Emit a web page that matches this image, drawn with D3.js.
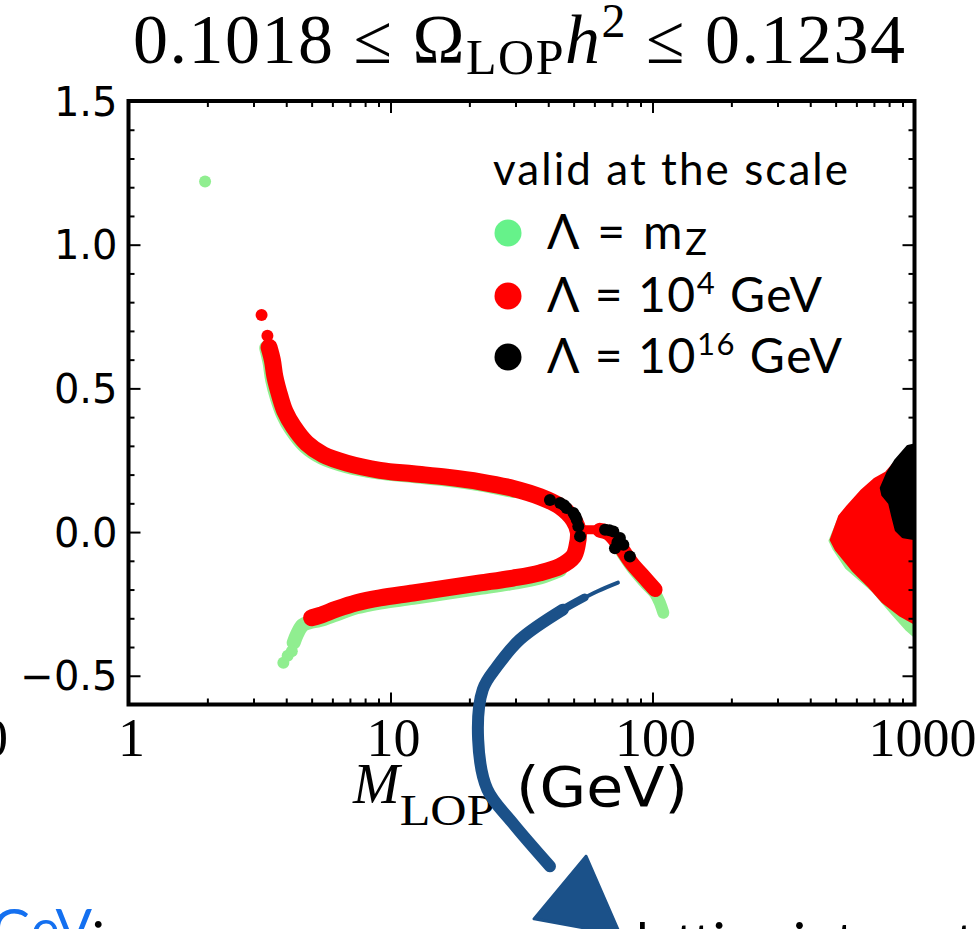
<!DOCTYPE html>
<html><head><meta charset="utf-8">
<script src="https://cdn.jsdelivr.net/npm/d3@7"></script>
<style>body{margin:0;background:#fff;overflow:hidden}svg{display:block}</style>
</head><body>
<svg id="c" width="979" height="929"></svg>
<script>
// ---------- data ----------
const xTicks = [1, 10, 100, 1000];
const xTickLabels = ["1", "10", "100", "1000"];
const xMinor = [2,3,4,5,6,7,8,9,20,30,40,50,60,70,80,90,200,300,400,500,600,700,800,900];
const yTicks = [-0.5, 0.0, 0.5, 1.0, 1.5];
const yTickLabels = ["\u22120.5", "0.0", "0.5", "1.0", "1.5"];
const yMinor = [-0.6,-0.4,-0.3,-0.2,-0.1,0.1,0.2,0.3,0.4,0.6,0.7,0.8,0.9,1.1,1.2,1.3,1.4];

const legendTitle = "valid at the scale";
const legendPre = ["\u039B = m", "\u039B = 10", "\u039B = 10"];
const legendScript = ["Z", "4", "16"];
const legendScriptType = ["sub", "sup", "sup"];
const legendPost = ["", " GeV", " GeV"];

// Lambda = mZ (green)
const greenDots = [[1.96, 1.22], [3.9, -0.455], [4.05, -0.43], [4.2, -0.415]];
const greenUpper = [[3.40,0.64],[3.50,0.59],[3.58,0.53],[3.74,0.465],[3.92,0.413],[4.22,0.36],[4.75,0.302],[5.5,0.263],[6.8,0.234],[9.1,0.212],[12.2,0.2],[16.4,0.188],[22,0.171],[29.4,0.148]];
const greenLower = [[44.4,-0.132],[37.2,-0.158],[29.4,-0.177],[22,-0.194],[16.4,-0.211],[12.2,-0.229],[9.12,-0.245],[7.42,-0.262],[6.23,-0.286],[5.38,-0.306],[4.9,-0.314],[4.62,-0.324],[4.4,-0.355],[4.27,-0.385]];
const greenRight = [[75,-0.06],[83.3,-0.122],[93.5,-0.176],[102.3,-0.214],[106.9,-0.248],[110,-0.281]];
const greenBlob = [[478,-0.03],[520,0.05],[1100,0.30],[1100,-0.37],[1000,-0.36],[934,-0.336],[830,-0.284],[697,-0.203],[551,-0.122],[495,-0.058]];

// Lambda = 1e4 GeV (red)
const redDots = [[3.22, 0.755], [3.39, 0.683]];
const redBand = [[3.44,0.643],[3.54,0.599],[3.62,0.541],[3.79,0.471],[3.96,0.419],[4.26,0.367],[4.79,0.309],[5.54,0.269],[6.81,0.240],[9.12,0.215],[12.2,0.203],[16.4,0.191],[22.0,0.175],[29.4,0.152],[37.2,0.123],[44.4,0.089],[49.9,0.043],[52.1,0.000],[51.6,-0.045],[49.9,-0.085],[44.4,-0.119],[37.2,-0.142],[29.4,-0.160],[22.0,-0.177],[16.4,-0.194],[12.2,-0.212],[9.12,-0.229],[7.42,-0.246],[6.23,-0.268],[5.38,-0.290],[5.0,-0.298]];
const redBridge = [[53.5,0.008],[58,0.008],[62,0.008]];
const redRight = [[63,0.006],[67.8,-0.003],[75.2,-0.050],[83.3,-0.108],[93.5,-0.160],[102.3,-0.200]];
const redBlob = [[483,-0.027],[520,0.054],[559,0.089],[629,0.141],[707,0.182],[783,0.205],[867,0.251],[947,0.286],[1100,0.31],[1100,-0.32],[1000,-0.315],[881,-0.287],[760,-0.241],[676,-0.189],[584,-0.131],[505,-0.061]];

// Lambda = 1e16 GeV (black)
const blackDots = [[40.6,0.112],[44.4,0.101],[46.0,0.093],[47.0,0.084],[49.9,0.066],[50.8,0.055],[51.4,0.043],[52.1,0.020],[52.9,-0.015],[65.9,0.008],[68.5,0.006],[70.9,0.002],[75.1,-0.021],[73.5,-0.035],[77.4,-0.044],[71.9,-0.056],[82,-0.085]];
const blackBlob = [[944,0.296],[855,0.251],[794,0.205],[750,0.153],[760,0.130],[807,0.101],[830,0.054],[855,0.008],[906,-0.015],[994,-0.021],[1100,-0.03],[1100,0.31]];

// annotation arrow (data coordinates, drawn outside the axes)
const arrowTail = [[73.8,-0.176],[62,-0.205],[52,-0.240]];
const arrowMid = [[55,-0.228],[45.5,-0.270],[36,-0.330]];
const arrowShaft = [[45.5,-0.270],[31.2,-0.374],[25.5,-0.468],[22.5,-0.548],[21.6,-0.721],[23.4,-0.895],[29.1,-1.010],[40.6,-1.163]];
const arrowHead = [[55.8,-1.128],[35.3,-1.346],[75.2,-1.40]];

// ---------- chart ----------
const X0 = 128.5, X1 = 914.5, Y0 = 101, Y1 = 704.5;
const x = d3.scaleLog().domain([1, 1000]).range([X0, X1]);
const y = d3.scaleLinear().domain([-0.6, 1.5]).range([Y1, Y0]);
const svg = d3.select("#c");
const GREEN = "#90ee90", RED = "#ff0000", BLACK = "#000000", BLUE = "#1b5189";

svg.append("defs").append("clipPath").attr("id", "clip")
  .append("rect").attr("x", X0).attr("y", Y0).attr("width", X1 - X0).attr("height", Y1 - Y0);

const plot = svg.append("g").attr("clip-path", "url(#clip)");
const line = d3.line().x(d => x(d[0])).y(d => y(d[1])).curve(d3.curveCatmullRom);
const poly = d3.line().x(d => x(d[0])).y(d => y(d[1])).curve(d3.curveLinearClosed);

function band(data, color, w) {
  plot.append("path").attr("d", line(data)).attr("fill", "none").attr("stroke", color)
    .attr("stroke-width", w).attr("stroke-linecap", "round").attr("stroke-linejoin", "round");
}
function dots(data, color, r) {
  plot.append("g").selectAll("circle").data(data).join("circle")
    .attr("cx", d => x(d[0])).attr("cy", d => y(d[1])).attr("r", r).attr("fill", color);
}
function blob(data, color) {
  plot.append("path").attr("d", poly(data)).attr("fill", color).attr("stroke", color)
    .attr("stroke-width", 4).attr("stroke-linejoin", "round");
}

// green layer
blob(greenBlob, GREEN);
band(greenUpper, GREEN, 17);
band(greenLower, GREEN, 14);
band(greenRight, GREEN, 12);
dots(greenDots, GREEN, 6);
// red layer
blob(redBlob, RED);
band(redBand, RED, 17);
band(redBridge, RED, 9);
band(redRight, RED, 15);
dots(redDots, RED, 6);
// black layer
blob(blackBlob, BLACK);
dots(blackDots, BLACK, 6);

// axes ticks (inward, all four sides)
function styleAxis(g) { g.select(".domain").remove(); g.selectAll("line").attr("stroke", "#000").attr("stroke-width", 2); g.selectAll("text").remove(); }
svg.append("g").attr("transform", `translate(0,${Y1})`).call(d3.axisBottom(x).tickValues(xTicks).tickSize(-12)).call(styleAxis);
svg.append("g").attr("transform", `translate(0,${Y1})`).call(d3.axisBottom(x).tickValues(xMinor).tickSize(-6)).call(styleAxis);
svg.append("g").attr("transform", `translate(0,${Y0})`).call(d3.axisTop(x).tickValues(xTicks).tickSize(-12)).call(styleAxis);
svg.append("g").attr("transform", `translate(0,${Y0})`).call(d3.axisTop(x).tickValues(xMinor).tickSize(-6)).call(styleAxis);
svg.append("g").attr("transform", `translate(${X0},0)`).call(d3.axisLeft(y).tickValues(yTicks).tickSize(-12)).call(styleAxis);
svg.append("g").attr("transform", `translate(${X0},0)`).call(d3.axisLeft(y).tickValues(yMinor).tickSize(-6)).call(styleAxis);
svg.append("g").attr("transform", `translate(${X1},0)`).call(d3.axisRight(y).tickValues(yTicks).tickSize(-12)).call(styleAxis);
svg.append("g").attr("transform", `translate(${X1},0)`).call(d3.axisRight(y).tickValues(yMinor).tickSize(-6)).call(styleAxis);

svg.append("rect").attr("x", X0).attr("y", Y0).attr("width", X1 - X0).attr("height", Y1 - Y0)
  .attr("fill", "none").attr("stroke", "#000").attr("stroke-width", 4);

// tick labels
svg.append("g").selectAll("text").data(yTicks).join("text")
  .attr("x", X0 - 11).attr("y", d => y(d) + 14.5).attr("text-anchor", "end")
  .attr("font-family", "DejaVu Sans").attr("font-size", 40).text((d, i) => yTickLabels[i]);
svg.append("g").selectAll("text").data(xTicks).join("text")
  .attr("x", (d, i) => x(d) + (i === 3 ? 8 : 3)).attr("y", 756).attr("text-anchor", "middle")
  .attr("font-family", "Liberation Serif").attr("font-size", 54).text((d, i) => xTickLabels[i]);

// stray label fragment from neighbouring panel
svg.append("text").attr("x", 8).attr("y", 756).attr("text-anchor", "end")
  .attr("font-family", "Liberation Serif").attr("font-size", 54).text("1000");

// title
const title = svg.append("text").attr("x", 133).attr("y", 63)
  .attr("font-family", "Liberation Serif").attr("font-size", 70)
  .attr("textLength", 772).attr("lengthAdjust", "spacing");
title.append("tspan").text("0.1018 \u2264 \u03A9");
title.append("tspan").attr("font-size", 50).attr("dy", 11).text("LOP");
title.append("tspan").attr("font-style", "italic").attr("dy", -11).text("h");
title.append("tspan").attr("font-size", 48).attr("dy", -26).text("2");
title.append("tspan").attr("dy", 26).text(" \u2264 0.1234");

// x axis label
const xl = svg.append("text").attr("y", 803).attr("font-family", "Liberation Serif");
xl.append("tspan").attr("x", 353).attr("font-style", "italic").attr("font-size", 56).text("M");
xl.append("tspan").attr("font-size", 44).attr("dy", 22).attr("textLength", 95).attr("lengthAdjust", "spacingAndGlyphs").text("LOP");
svg.append("text").attr("x", 516).attr("y", 806).attr("font-family", "DejaVu Sans").attr("font-size", 55)
  .attr("textLength", 172).attr("lengthAdjust", "spacingAndGlyphs").text("(GeV)");

// legend
const lg = svg.append("g");
const rowY = [249, 312, 373];
const rowW = [160, 275, 295];
const markerColors = ["#66f28a", RED, BLACK];
lg.append("text").attr("x", 493).attr("y", 185).attr("font-family", "Lato").attr("font-size", 44)
  .attr("textLength", 355).attr("lengthAdjust", "spacing").text(legendTitle);
legendPre.forEach((p, i) => {
  lg.append("circle").attr("cx", 508).attr("cy", rowY[i] - 16).attr("r", 13.5).attr("fill", markerColors[i]);
  const t = lg.append("text").attr("x", 547).attr("y", rowY[i]).attr("font-family", "Lato").attr("font-size", 48)
    .attr("textLength", rowW[i]).attr("lengthAdjust", "spacing");
  t.append("tspan").text(p);
  if (legendScriptType[i] === "sub") {
    t.append("tspan").attr("font-size", 36).attr("dy", 6).text(legendScript[i]);
  } else {
    t.append("tspan").attr("font-size", 31).attr("dy", -18).text(legendScript[i]);
    t.append("tspan").attr("dy", 18).text(legendPost[i]);
  }
});

// annotation arrow
const aLine = d3.line().x(d => x(d[0])).y(d => y(d[1])).curve(d3.curveCatmullRom);
svg.append("path").attr("d", aLine(arrowTail)).attr("fill", "none").attr("stroke", BLUE).attr("stroke-width", 4).attr("stroke-linecap", "round");
svg.append("path").attr("d", aLine(arrowMid)).attr("fill", "none").attr("stroke", BLUE).attr("stroke-width", 8).attr("stroke-linecap", "round");
svg.append("path").attr("d", aLine(arrowShaft)).attr("fill", "none").attr("stroke", BLUE).attr("stroke-width", 12).attr("stroke-linecap", "round");
svg.append("path").attr("d", poly(arrowHead)).attr("fill", BLUE).attr("stroke", BLUE).attr("stroke-width", 3).attr("stroke-linejoin", "round");

// slide text fragments at the bottom
const gev = svg.append("text").attr("x", -8).attr("y", 948).attr("font-family", "Lato").attr("font-size", 54);
gev.append("tspan").attr("fill", "#1470f0").text("GeV");
gev.append("tspan").attr("fill", "#000").text(":");
svg.append("text").attr("x", 636).attr("y", 962).attr("font-family", "Lato").attr("font-size", 54)
  .attr("fill", "#000").text("lattice interactions");
</script>
</body></html>
